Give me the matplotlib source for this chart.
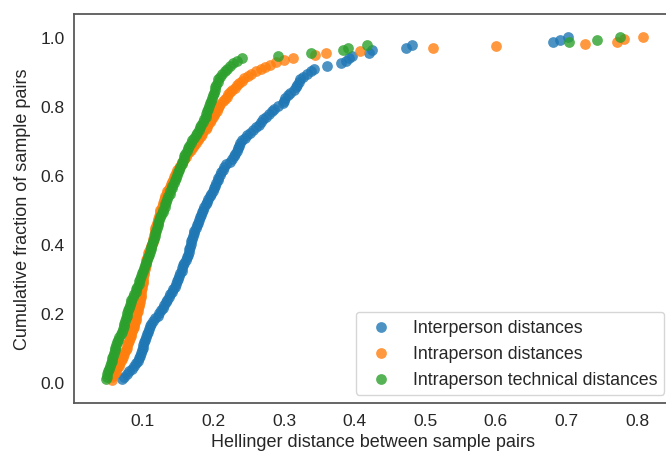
import numpy as np
import matplotlib
matplotlib.use("Agg")
import matplotlib.pyplot as plt

plt.rcParams['font.family'] = ['Liberation Sans', 'DejaVu Sans']

# Hellinger distances (sorted), one list per group
inter = [0.070, 0.073, 0.077, 0.081, 0.085, 0.088, 0.090, 0.093, 0.095, 0.096,
         0.097, 0.099, 0.100, 0.101, 0.102, 0.103, 0.104, 0.106, 0.108, 0.109,
         0.110, 0.112, 0.115, 0.118, 0.121, 0.123, 0.126, 0.128, 0.130, 0.133,
         0.135, 0.137, 0.139, 0.141, 0.143, 0.145, 0.147, 0.148, 0.150, 0.151,
         0.153, 0.155, 0.156, 0.157, 0.159, 0.161, 0.163, 0.164, 0.165, 0.166,
         0.167, 0.168, 0.169, 0.170, 0.171, 0.172, 0.173, 0.175, 0.177, 0.178,
         0.179, 0.181, 0.182, 0.184, 0.186, 0.187, 0.189, 0.191, 0.193, 0.195,
         0.197, 0.199, 0.201, 0.202, 0.204, 0.206, 0.207, 0.209, 0.211, 0.213,
         0.215, 0.218, 0.224, 0.227, 0.229, 0.231, 0.233, 0.235, 0.236, 0.238,
         0.241, 0.245, 0.248, 0.252, 0.256, 0.260, 0.264, 0.268, 0.271, 0.275,
         0.279, 0.283, 0.286, 0.292, 0.298, 0.300, 0.302, 0.305, 0.309, 0.314,
         0.317, 0.319, 0.321, 0.323, 0.327, 0.333, 0.338, 0.342, 0.361, 0.381,
         0.388, 0.392, 0.396, 0.420, 0.425, 0.473, 0.482, 0.681, 0.691, 0.702]

intra = [0.056, 0.057, 0.058, 0.060, 0.062, 0.064, 0.066, 0.067, 0.069, 0.070,
         0.072, 0.073, 0.074, 0.076, 0.077, 0.078, 0.079, 0.080, 0.082, 0.083,
         0.084, 0.085, 0.086, 0.087, 0.088, 0.089, 0.090, 0.091, 0.091, 0.092,
         0.093, 0.093, 0.094, 0.095, 0.096, 0.096, 0.097, 0.097, 0.098, 0.098,
         0.099, 0.099, 0.100, 0.100, 0.101, 0.101, 0.102, 0.102, 0.103, 0.103,
         0.104, 0.104, 0.105, 0.106, 0.107, 0.108, 0.109, 0.110, 0.112, 0.113,
         0.114, 0.115, 0.116, 0.116, 0.117, 0.118, 0.118, 0.119, 0.120, 0.121,
         0.122, 0.123, 0.124, 0.125, 0.125, 0.127, 0.128, 0.129, 0.130, 0.131,
         0.132, 0.134, 0.135, 0.137, 0.139, 0.140, 0.142, 0.143, 0.144, 0.146,
         0.147, 0.149, 0.151, 0.153, 0.155, 0.157, 0.159, 0.161, 0.163, 0.166,
         0.168, 0.171, 0.173, 0.175, 0.178, 0.180, 0.182, 0.184, 0.186, 0.189,
         0.191, 0.193, 0.195, 0.197, 0.199, 0.201, 0.203, 0.205, 0.206, 0.208,
         0.210, 0.213, 0.216, 0.219, 0.221, 0.223, 0.226, 0.230, 0.233, 0.236,
         0.240, 0.243, 0.249, 0.254, 0.261, 0.267, 0.273, 0.280, 0.289, 0.300,
         0.313, 0.344, 0.359, 0.407, 0.511, 0.600, 0.726, 0.772, 0.781, 0.808]

technical = [0.048, 0.049, 0.050, 0.051, 0.052, 0.053, 0.055, 0.056, 0.057, 0.058,
             0.059, 0.060, 0.061, 0.062, 0.063, 0.065, 0.067, 0.069, 0.071, 0.072,
             0.073, 0.074, 0.075, 0.076, 0.077, 0.078, 0.079, 0.080, 0.082, 0.083,
             0.084, 0.086, 0.088, 0.090, 0.091, 0.092, 0.094, 0.095, 0.096, 0.098,
             0.099, 0.101, 0.102, 0.103, 0.105, 0.106, 0.107, 0.109, 0.110, 0.111,
             0.112, 0.113, 0.115, 0.116, 0.117, 0.118, 0.119, 0.120, 0.121, 0.122,
             0.123, 0.125, 0.126, 0.128, 0.129, 0.131, 0.132, 0.133, 0.134, 0.136,
             0.138, 0.139, 0.141, 0.142, 0.144, 0.145, 0.147, 0.149, 0.150, 0.152,
             0.153, 0.155, 0.156, 0.158, 0.159, 0.160, 0.162, 0.164, 0.166, 0.168,
             0.170, 0.172, 0.175, 0.177, 0.179, 0.181, 0.183, 0.185, 0.187, 0.189,
             0.190, 0.191, 0.193, 0.194, 0.195, 0.196, 0.198, 0.200, 0.201, 0.202,
             0.203, 0.204, 0.206, 0.207, 0.209, 0.212, 0.216, 0.219, 0.223, 0.228,
             0.234, 0.240, 0.292, 0.338, 0.384, 0.391, 0.417, 0.704, 0.743, 0.776]

labels = ["Interperson distances", "Intraperson distances",
          "Intraperson technical distances"]
colors = ["tab:blue", "tab:orange", "tab:green"]

fig = plt.figure(figsize=(6.66, 4.56), dpi=100)
ax = fig.add_axes([0.1115, 0.1145, 0.898, 0.853])

for vals, lab, col in zip([inter, intra, technical], labels, colors):
    x = np.sort(np.array(vals))
    y = np.arange(1, len(x) + 1) / len(x)
    ax.scatter(x, y, s=60, color=col, alpha=0.8, linewidths=0, label=lab)

ax.set_xlim(0.003, 0.85)
ax.set_ylim(-0.06, 1.067)
ax.set_xticks([0.1, 0.2, 0.3, 0.4, 0.5, 0.6, 0.7, 0.8])
ax.set_yticks([0.0, 0.2, 0.4, 0.6, 0.8, 1.0])
ax.tick_params(length=0, labelsize=12.5, labelcolor="0.15", pad=7)
for sp in ax.spines.values():
    sp.set_color("0.35")
    sp.set_linewidth(1.3)

ax.set_xlabel("Hellinger distance between sample pairs", fontsize=13, color="0.15")
ax.set_ylabel("Cumulative fraction of sample pairs", fontsize=13, color="0.15",
              labelpad=7)
ax.legend(loc="lower right", fontsize=12.8, frameon=True, edgecolor="0.8",
          borderaxespad=0.45, labelcolor="0.15")

fig.savefig("out.png", dpi=100)
